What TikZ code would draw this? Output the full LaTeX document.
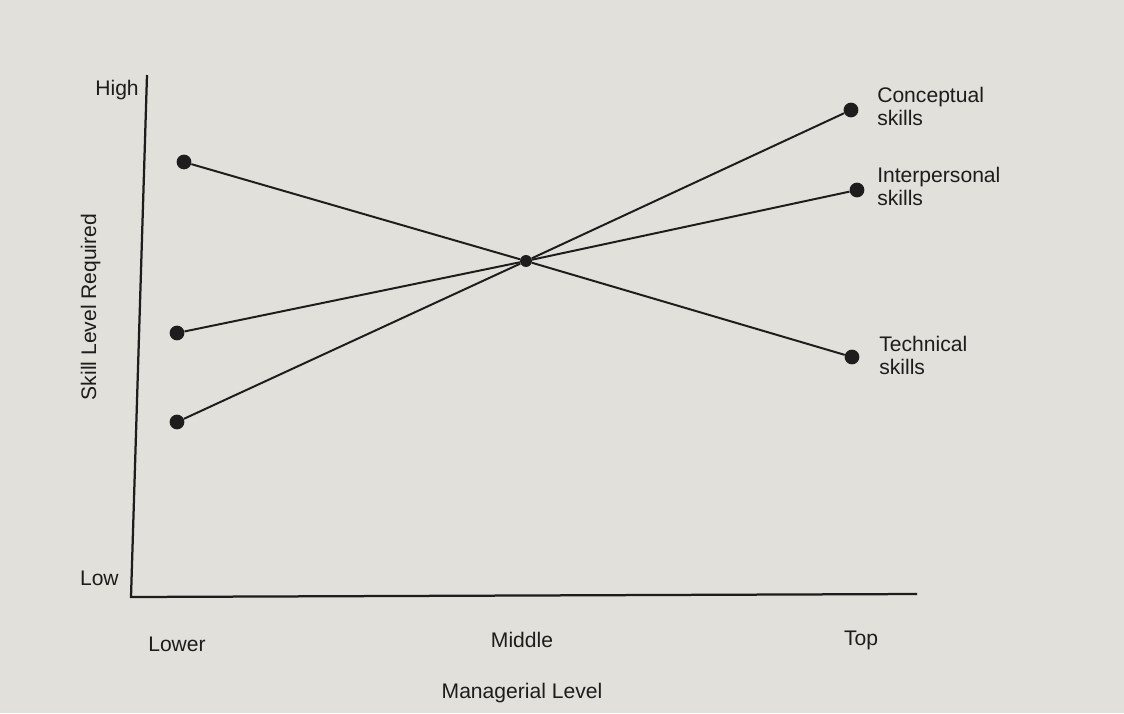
\documentclass[tikz,border=0pt]{standalone}
\usepackage{fontspec}
\setmainfont{Liberation Sans}
\definecolor{paper}{RGB}{226,224,218}
\definecolor{ink}{RGB}{30,28,28}

\begin{document}
\begin{tikzpicture}[
		x=0.025cm, y=-0.025cm,
		nodefont/.style={font=\fontsize{15}{16.3}\selectfont, text=ink, inner sep=0pt},
		dot/.style={circle, fill=ink, inner sep=0pt, minimum size=10.5pt},
		skill/.style={draw=ink, line width=1.4pt}
	]
		% 背景
		\fill[paper] (0,0) rectangle (1124,713);
		\useasboundingbox (0,0) rectangle (1124,713);

		% 坐标轴
		\coordinate (ytop) at (147,75);
		\coordinate (origin) at (131,597);
		\coordinate (xend) at (917,594);
		\draw[ink, line width=1.6pt] (ytop) -- (origin) -- (xend);

		% 坐标轴上的文字
		\node[nodefont, anchor=base east] (high) at (139,95) {High};
		\node[nodefont, anchor=base east] (low) at (119,585) {Low};
		\node[nodefont, rotate=90, anchor=base] (ylabel) at (96,307) {Skill Level Required};
		\node[nodefont, anchor=base] (lower) at (177,651) {Lower};
		\node[nodefont, anchor=base] (middle) at (522,647) {Middle};
		\node[nodefont, anchor=base] (top) at (861,645) {Top};
		\node[nodefont, anchor=base] (xlabel) at (522,698) {Managerial Level};

		% 各端点和中间的交点
		\node[dot, minimum size=8.5pt] (mid) at (526,261) {};
		\node[dot] (techleft) at (184,162) {};
		\node[dot] (interleft) at (177,333) {};
		\node[dot] (concleft) at (177,422) {};
		\node[dot] (concright) at (851,110) {};
		\node[dot] (interright) at (857,190) {};
		\node[dot] (techright) at (852,357) {};

		% 三条技能线
		\draw[skill] (concleft) -- (mid) -- (concright);
		\draw[skill] (interleft) -- (mid) -- (interright);
		\draw[skill] (techleft) -- (mid) -- (techright);

		% 右边的技能名称
		\node[nodefont, align=left, anchor=north west] (conclabel) at (877,87) {Conceptual\\skills};
		\node[nodefont, align=left, anchor=north west] (interlabel) at (877,167) {Interpersonal\\skills};
		\node[nodefont, align=left, anchor=north west] (techlabel) at (879,336) {Technical\\skills};
	\end{tikzpicture}
\end{document}
